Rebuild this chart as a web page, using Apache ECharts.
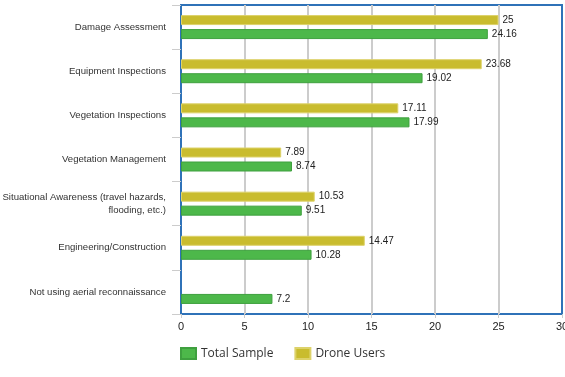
<!DOCTYPE html>
<html>
<head>
<meta charset="utf-8">
<script src="https://cdn.jsdelivr.net/npm/echarts@6/dist/echarts.min.js"></script>
<style>
  html, body { margin: 0; padding: 0; background: #fff; }
  #chart { width: 565px; height: 377px; }
</style>
</head>
<body>
<div id="chart"></div>
<script>
// categories, top to bottom
var categories = [
  'Damage Assessment',
  'Equipment Inspections',
  'Vegetation Inspections',
  'Vegetation Management',
  'Situational Awareness (travel hazards,\nflooding, etc.)',
  'Engineering/Construction',
  'Not using aerial reconnaissance'
];
var totalSample = [24.16, 19.02, 17.99, 8.74, 9.51, 10.28, 7.2];
var droneUsers = [25, 23.68, 17.11, 7.89, 10.53, 14.47, null];

var chart = echarts.init(document.getElementById('chart'));

var labelStyle = {
  show: true,
  position: 'right',
  distance: 4,
  color: '#222',
  fontSize: 10,
  fontFamily: 'Liberation Sans'
};

// no grey line on the outer edges, the blue frame is there
var gridColors = ['rgba(0,0,0,0)', '#ccc', '#ccc', '#ccc', '#ccc', '#ccc', 'rgba(0,0,0,0)'];

var option = {
  animation: false,
  textStyle: { fontFamily: 'Liberation Sans' },
  grid: {
    left: 181, right: 3, top: 5, bottom: 63,
    show: true,
    borderColor: '#2f72b8',
    borderWidth: 2,
    containLabel: false,
    outerBoundsMode: 'none'
  },
  legend: {
    left: 175,
    bottom: 12,
    itemWidth: 15,
    itemHeight: 11,
    itemGap: 21,
    icon: 'rect',
    textStyle: { fontFamily: 'Open Sans', fontSize: 12, color: '#333' },
    data: ['Total Sample', 'Drone Users']
  },
  xAxis: {
    type: 'value',
    min: 0,
    max: 30,
    interval: 5,
    axisLine: { show: false },
    axisTick: { show: true, length: 4, lineStyle: { color: '#ccc' } },
    axisLabel: { color: '#222', fontSize: 11, margin: 7 },
    splitLine: { show: true, lineStyle: { color: gridColors, width: 2 } }
  },
  yAxis: {
    type: 'category',
    inverse: true,
    data: categories,
    axisLine: { show: false },
    axisTick: { show: true, length: 9, lineStyle: { color: '#ccc' } },
    axisLabel: { color: '#333', fontSize: 9.6, margin: 15, lineHeight: 13 }
  },
  // with an inverted axis the first series sits on top of each group
  series: [
    {
      name: 'Drone Users',
      type: 'bar',
      data: droneUsers,
      barWidth: 10,
      barGap: '40%',
      itemStyle: { color: '#c9bc2e', borderColor: '#ddd26a', borderWidth: 1 },
      label: labelStyle
    },
    {
      name: 'Total Sample',
      type: 'bar',
      data: totalSample,
      barWidth: 10,
      barGap: '40%',
      itemStyle: { color: '#4db84a', borderColor: '#3fa03f', borderWidth: 1 },
      label: labelStyle
    }
  ]
};

chart.setOption(option);
</script>
</body>
</html>
